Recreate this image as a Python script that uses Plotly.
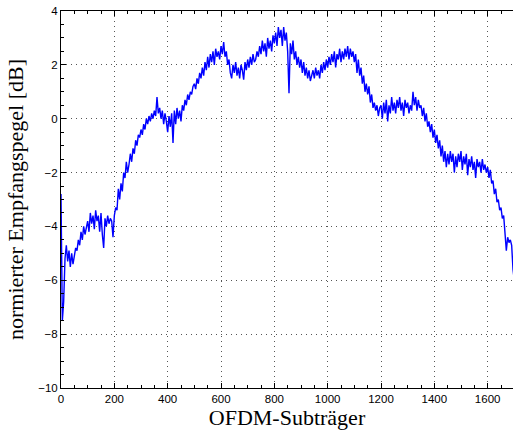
import plotly.graph_objects as go

# Received level per OFDM subcarrier (sampled every 5th subcarrier), in dB
STEP = 5
seg_0000 = [-2.8, -7.5, -6.8, -5.2, -4.7, -5.3, -4.9, -5.5, -5.0, -5.4, -5.1, -4.8, -4.9, -4.5, -4.7, -4.2, -4.5, -4.0, -4.3, -4.1]
seg_0100 = [-3.8, -4.2, -3.5, -3.9, -3.6, -4.1, -3.4, -3.8, -3.6, -4.2, -3.5, -4.3, -4.8, -3.7, -4.0, -3.6, -3.9, -3.7, -3.8, -4.4]
seg_0200 = [-3.6, -3.3, -3.4, -2.6, -3.0, -2.4, -2.7, -2.0, -2.2, -1.6, -2.0, -1.7, -1.3, -1.6, -1.1, -1.3, -0.8, -1.0, -0.6, -0.7]
seg_0300 = [-0.4, -0.6, -0.2, -0.4, 0.0, -0.2, 0.1, -0.1, 0.2, 0.0, 0.3, 0.1, 0.8, 0.2, 0.4, 0.0, 0.3, -0.2, 0.2, -0.1]
seg_0400 = [-0.5, 0.1, -0.3, 0.2, -0.9, 0.3, -0.2, 0.4, 0.0, 0.3, -0.1, 0.5, 0.3, 0.7, 0.5, 0.9, 0.7, 1.0, 0.9, 1.2]
seg_0500 = [1.3, 1.1, 1.5, 1.3, 1.7, 1.5, 1.9, 1.6, 2.1, 1.8, 2.3, 1.9, 2.4, 2.1, 2.5, 2.0, 2.6, 2.3, 2.5, 2.2]
seg_0600 = [2.7, 2.4, 2.85, 2.3, 2.5, 2.0, 2.2, 1.7, 1.5, 2.0, 1.7, 2.1, 1.6, 1.9, 1.5, 2.0, 1.8, 1.45, 2.1, 1.8]
seg_0700 = [2.2, 1.9, 2.3, 2.0, 2.4, 2.1, 2.2, 2.5, 2.3, 2.7, 2.4, 2.9, 2.5, 2.8, 2.3, 3.0, 2.6, 2.9, 2.5, 3.1]
seg_0800 = [2.8, 3.2, 2.7, 3.4, 3.0, 3.3, 2.7, 3.4, 2.9, 3.2, 2.5, 0.95, 2.8, 2.4, 2.9, 2.2, 2.5, 2.0, 2.3, 1.9]
seg_0900 = [2.2, 1.7, 2.1, 1.6, 1.9, 1.5, 1.8, 1.4, 1.6, 1.8, 1.5, 1.9, 1.6, 1.8, 1.5, 2.0, 1.7, 2.1, 1.8, 2.2]
seg_1000 = [1.9, 2.3, 2.0, 2.4, 2.1, 2.5, 1.9, 2.4, 2.2, 2.6, 2.1, 2.5, 2.2, 2.6, 2.3, 2.7, 2.2, 2.6, 2.3, 2.5]
seg_1100 = [2.1, 2.4, 1.7, 2.2, 1.6, 1.9, 1.3, 1.6, 1.0, 1.3, 0.9, 1.2, 0.6, 0.9, 0.4, 0.6, 0.3, 0.5, 0.1, 0.4]
seg_1200 = [0.5, 0.0, 0.6, 0.2, 0.7, -0.1, 0.5, 0.2, 0.8, 0.3, 0.6, 0.2, 0.7, 0.4, 0.8, 0.3, 0.6, 0.1, 0.7, 0.4]
seg_1300 = [0.6, 0.2, 0.5, 0.3, 1.0, 0.5, 0.8, 0.3, 0.7, 0.4, 0.5, 0.1, 0.4, -0.1, 0.2, -0.3, -0.1, -0.5, -0.2, -0.7]
seg_1400 = [-0.4, -0.9, -0.6, -1.1, -0.8, -1.4, -1.0, -1.6, -1.2, -1.8, -1.3, -1.7, -1.2, -1.6, -1.3, -2.0, -1.4, -1.8, -1.3, -1.6]
seg_1500 = [-1.2, -1.9, -1.4, -1.7, -1.3, -2.1, -1.5, -1.8, -1.4, -1.9, -1.6, -2.2, -1.5, -1.8, -1.6, -2.0, -1.5, -1.9, -1.7, -2.0]
seg_1600 = [-1.8, -2.2, -1.9, -2.4, -2.3, -2.8, -2.6, -3.1, -3.0, -3.4, -3.3, -3.7, -3.6, -4.5, -4.9, -4.4, -4.6, -4.5, -4.7, -5.6, -6.0]

levels = (seg_0000 + seg_0100 + seg_0200 + seg_0300 + seg_0400 + seg_0500 + seg_0600
          + seg_0700 + seg_0800 + seg_0900 + seg_1000 + seg_1100 + seg_1200 + seg_1300
          + seg_1400 + seg_1500 + seg_1600)
subcarriers = [i * STEP for i in range(len(levels))]

x_ticks = [0, 200, 400, 600, 800, 1000, 1200, 1400, 1600]
y_ticks = [-10, -8, -6, -4, -2, 0, 2, 4]

tick_font = dict(family="Liberation Sans, Arial, sans-serif", size=11.5, color="black")
title_font = dict(family="Liberation Serif, Times New Roman, serif", size=22, color="black")

fig = go.Figure(go.Scatter(
    x=subcarriers, y=levels, mode="lines",
    line=dict(color="rgb(0,0,255)", width=1.4),
    showlegend=False,
))

axis_common = dict(
    showline=True, linecolor="black", linewidth=1,
    ticks="inside", ticklen=5, tickcolor="black", tickwidth=1,
    showgrid=True, gridcolor="#555555", gridwidth=1, griddash="1px,4px",
    zeroline=False, tickfont=tick_font,
)

fig.update_xaxes(
    range=[0, 1695], tickvals=x_ticks, ticktext=[str(v) for v in x_ticks],
    mirror="ticks",
    minor=dict(dtick=50, ticks="inside", ticklen=3, tickcolor="black", showgrid=False),
    title=dict(text="OFDM-Subträger", font=title_font, standoff=4),
    **axis_common,
)
fig.update_yaxes(
    range=[-10, 4], tickvals=y_ticks,
    ticktext=[str(v) if v >= 0 else "\u2212" + str(-v) for v in y_ticks],
    mirror=False,
    minor=dict(dtick=0.5, ticks="inside", ticklen=3, tickcolor="black", showgrid=False),
    title=dict(text="normierter Empfangspegel [dB]", font=title_font, standoff=8),
    **axis_common,
)

fig.update_layout(
    width=513, height=432,
    margin=dict(l=61, r=0, t=11, b=44),
    paper_bgcolor="white", plot_bgcolor="white",
)

fig.write_html("out.html")
